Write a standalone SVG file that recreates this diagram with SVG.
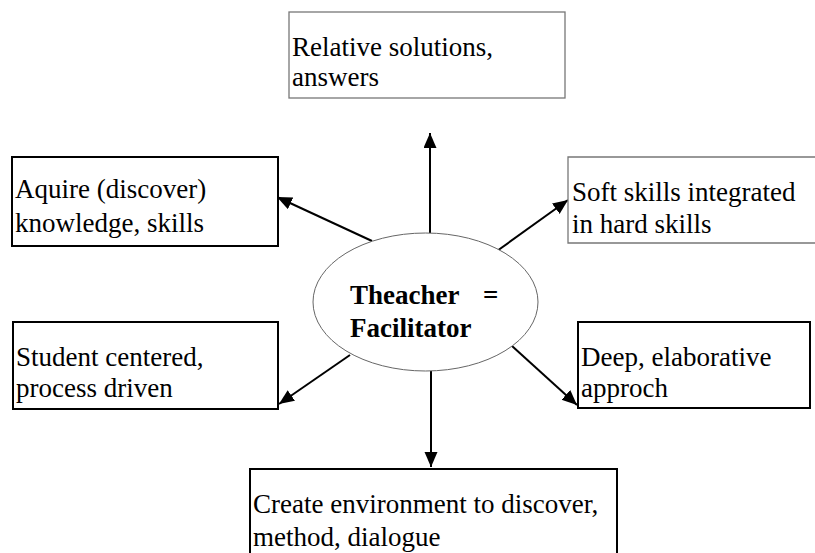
<svg xmlns="http://www.w3.org/2000/svg" width="815" height="553" viewBox="0 0 815 553">
<defs>
<marker id="ah" markerUnits="userSpaceOnUse" markerWidth="16" markerHeight="14" refX="15" refY="6.5" orient="auto">
<path d="M0,0 L15,6.5 L0,13 z" fill="#000"/>
</marker>
<style>
text{font-family:'Liberation Serif','Times New Roman','DejaVu Serif',serif;fill:#000}
.t{font-size:27px}
.b{font-size:27px;font-weight:bold}
.bk{fill:#fff;stroke:#000;stroke-width:2}
.gr{fill:#fff;stroke:#777;stroke-width:1.3}
.c{stroke:#000;stroke-width:2;fill:none;marker-end:url(#ah)}
</style>
</defs>
<rect width="815" height="553" fill="#fff"/>
<g id="connectors">
<line class="c" x1="430" y1="233" x2="430" y2="133"/>
<line class="c" x1="372" y1="241" x2="277" y2="197"/>
<line class="c" x1="497" y1="251" x2="568" y2="200"/>
<line class="c" x1="350" y1="355" x2="279" y2="404"/>
<line class="c" x1="512" y1="346" x2="577" y2="405"/>
<line class="c" x1="431" y1="371" x2="431" y2="467"/>
</g>
<g id="center">
<ellipse cx="425.5" cy="302" rx="112.5" ry="69" fill="#fff" stroke="#666" stroke-width="1"/>
<text class="b" x="350" y="304">Theacher<tspan x="483">=</tspan></text>
<text class="b" x="350" y="337">Facilitator</text>
</g>
<g id="relative">
<rect class="gr" x="289" y="12" width="276" height="86"/>
<text class="t" x="292" y="56">Relative solutions,</text>
<text class="t" x="292" y="86">answers</text>
</g>
<g id="aquire">
<rect class="bk" x="12" y="157" width="266" height="89"/>
<text class="t" x="15" y="198">Aquire (discover)</text>
<text class="t" x="15" y="232">knowledge, skills</text>
</g>
<g id="soft">
<path class="gr" d="M815,157 H568 V243 H815"/>
<text class="t" x="572" y="201">Soft skills integrated</text>
<text class="t" x="572" y="233">in hard skills</text>
</g>
<g id="student">
<rect class="bk" x="13" y="322" width="265" height="87"/>
<text class="t" x="16" y="366">Student centered,</text>
<text class="t" x="16" y="397">process driven</text>
</g>
<g id="deep">
<rect class="bk" x="578" y="322" width="232" height="86"/>
<text class="t" x="581" y="366">Deep, elaborative</text>
<text class="t" x="581" y="397">approch</text>
</g>
<g id="create">
<path class="bk" d="M250,556 V469 H617 V556"/>
<text class="t" x="253" y="513">Create environment to discover,</text>
<text class="t" x="253" y="546">method, dialogue</text>
</g>
</svg>
